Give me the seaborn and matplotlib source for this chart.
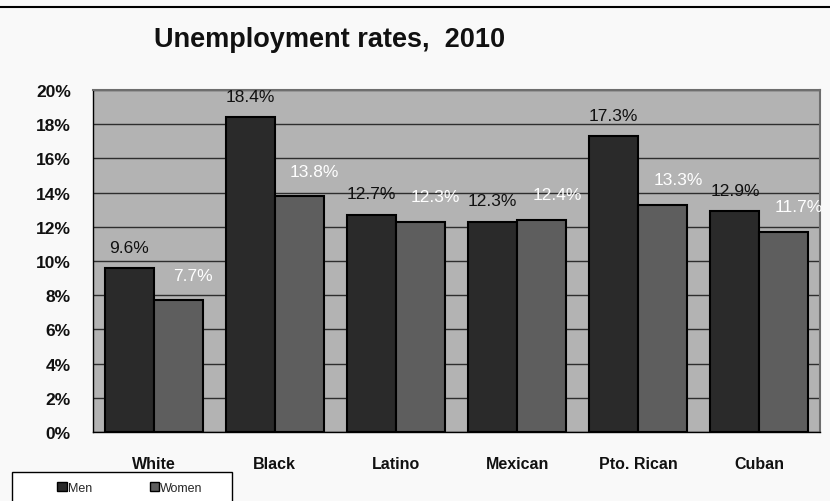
import matplotlib
matplotlib.use("Agg")
import matplotlib.pyplot as plt
import matplotlib.patches as mpatches
import matplotlib.lines as mlines
from matplotlib.ticker import FixedLocator, PercentFormatter
import seaborn as sns
import pandas as pd

# Unemployment rates (%) by group, 2010
groups = ["White", "Black", "Latino", "Mexican", "Pto. Rican", "Cuban"]
men = [9.6, 18.4, 12.7, 12.3, 17.3, 12.9]
women = [7.7, 13.8, 12.3, 12.4, 13.3, 11.7]
series = ["Men", "Women"]
yticks = [0, 2, 4, 6, 8, 10, 12, 14, 16, 18, 20]

df = pd.DataFrame({
    "group": groups * 2,
    "sex": [series[0]] * len(groups) + [series[1]] * len(groups),
    "rate": men + women,
})

sns.set_theme(style="white")
plt.rcParams["font.family"] = ["Liberation Sans", "DejaVu Sans"]

fig = plt.figure(figsize=(8.3, 5.02), dpi=100, facecolor="#f9f9f9")
ax = fig.add_axes([93 / 830, 1 - 433 / 502, (820 - 93) / 830, (433 - 91) / 502])
ax.set_facecolor("#b3b3b3")

colors = {"Men": "#2a2a2a", "Women": "#5e5e5e"}
sns.barplot(data=df, x="group", y="rate", hue="sex", order=groups,
            hue_order=series, palette=colors, saturation=1, width=0.81,
            edgecolor="black", linewidth=1.5, ax=ax, legend=False, zorder=3)

ax.set_ylim(0, 20)
ax.set_xlim(-0.5, len(groups) - 0.5)
ax.yaxis.set_major_locator(FixedLocator(yticks))
ax.yaxis.set_major_formatter(PercentFormatter(decimals=0))
ax.grid(axis="y", color="#2e2e2e", linewidth=1.0, zorder=1)
ax.set_axisbelow(True)
ax.set_xlabel("")
ax.set_ylabel("")

# category names centred, tick marks on the boundaries between groups
ax.set_xticks(range(len(groups)))
ax.set_xticklabels(groups, fontsize=11.5, fontweight="bold", color="#111111")
ax.tick_params(axis="x", which="major", length=0, pad=17)
ax.set_xticks([i - 0.5 for i in range(len(groups) + 1)], minor=True)
ax.tick_params(axis="x", which="minor", length=5, width=1, color="black",
               direction="out")
ax.tick_params(axis="y", length=6, width=1, color="black", direction="out",
               pad=10, labelsize=12.5, labelcolor="#111111")
for lab in ax.get_yticklabels():
    lab.set_fontweight("bold")

for side in ["left", "bottom"]:
    ax.spines[side].set_color("black")
    ax.spines[side].set_linewidth(1.0)
for side in ["top", "right"]:
    ax.spines[side].set_color("#6e6e6e")
    ax.spines[side].set_linewidth(1.5)

# value labels: men in black above bars, women in white offset to the right
men_bars, women_bars = ax.containers[0], ax.containers[1]
for bar, v in zip(men_bars, men):
    ax.annotate(f"{v:.1f}%", (bar.get_x() + bar.get_width() / 2, v),
                xytext=(0, 15), textcoords="offset points", ha="center",
                va="center", fontsize=12.5, color="#111111", zorder=5)
for bar, v in zip(women_bars, women):
    ax.annotate(f"{v:.1f}%", (bar.get_x() + bar.get_width() / 2, v),
                xytext=(11, 18), textcoords="offset points", ha="center",
                va="center", fontsize=12.5, color="white", zorder=5,
                annotation_clip=False)

fig.text(330 / 830, 1 - 40 / 502, "Unemployment rates,  2010", ha="center",
         va="center", fontsize=19.5, fontweight="bold", color="#111111")

# thin rule across the top
fig.add_artist(mlines.Line2D([0, 1], [1 - 8 / 502, 1 - 8 / 502],
                             color="black", linewidth=1.5,
                             transform=fig.transFigure))

# legend box at the bottom left
fig.add_artist(mpatches.Rectangle((12 / 830, -0.02), 220 / 830,
                                  (502 - 473) / 502 + 0.02,
                                  transform=fig.transFigure,
                                  facecolor="white", edgecolor="black",
                                  linewidth=1.0))
handles = [mpatches.Patch(facecolor=colors[s], edgecolor="black",
                          linewidth=1.0, label=s) for s in series]
fig.legend(handles=handles, loc="center left", ncol=2, frameon=False,
           bbox_to_anchor=(51 / 830, 1 - 489 / 502), fontsize=9,
           handlelength=0.75, handleheight=0.75, handletextpad=0.1,
           columnspacing=4.6, borderpad=0)

fig.savefig("out.png", dpi=100, facecolor=fig.get_facecolor())
